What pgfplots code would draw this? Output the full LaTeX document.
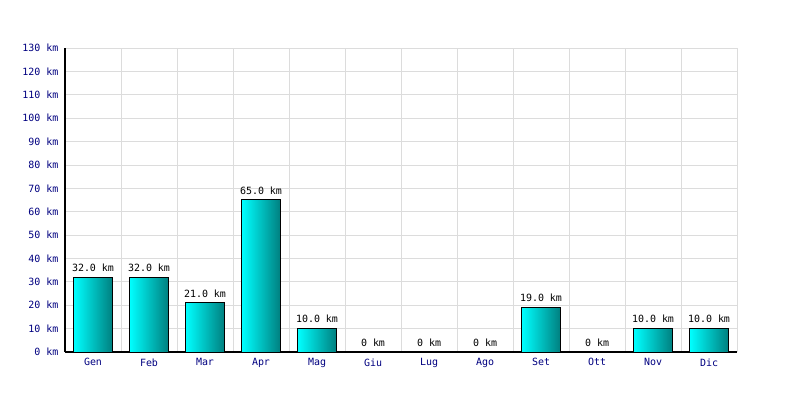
\documentclass[border=0pt]{standalone}
\usepackage{fontspec}
\setmainfont{DejaVu Sans Mono}
\usepackage{pgfplots}
\usepackage{pgfplotstable}
\pgfplotsset{compat=1.18}

\definecolor{ticknavy}{RGB}{0,0,128}
\definecolor{gridgray}{RGB}{220,220,220}
\definecolor{barleft}{RGB}{0,255,255}
\definecolor{barright}{RGB}{0,128,128}

% month, km, label
\pgfplotstableread[col sep=comma]{
x,y,lab
0,32,32.0 km
1,32,32.0 km
2,21,21.0 km
3,65,65.0 km
4,10,10.0 km
5,0,0 km
6,0,0 km
7,0,0 km
8,19,19.0 km
9,0,0 km
10,10,10.0 km
11,10,10.0 km
}\kmdata

\begin{document}
\begin{tikzpicture}
\path[use as bounding box] (0,0) rectangle (800bp,400bp);
\begin{axis}[
  at={(65bp,48bp)}, anchor=south west,
  scale only axis,
  width=672bp, height=304bp,
  xmin=-0.5, xmax=11.5,
  ymin=0, ymax=130,
  axis x line*=bottom,
  axis y line*=left,
  axis line style={line width=1.4bp, black, -},
  xtick={0,...,11},
  xticklabels={Gen,Feb,Mar,Apr,Mag,Giu,Lug,Ago,Set,Ott,Nov,Dic},
  minor xtick={-0.5,0.5,...,11.5},
  ytick={0,10,...,130},
  yticklabels={0 km,10 km,20 km,30 km,40 km,50 km,60 km,70 km,80 km,90 km,100 km,110 km,120 km,130 km},
  major tick length=0pt, minor tick length=0pt,
  ymajorgrids=true, xminorgrids=true,
  grid style={gridgray, line width=0.8bp},
  minor grid style={gridgray, line width=0.8bp},
  tick label style={font=\fontsize{10}{12}\selectfont, text=ticknavy},
  yticklabel style={xshift=-3bp},
  xticklabel style={yshift=-3bp},
  ybar, bar width=38.4bp,
  point meta=explicit symbolic,
  nodes near coords,
  every node near coord/.append style={font=\fontsize{10}{12}\selectfont, text=black, anchor=south, inner sep=0pt, yshift=5bp},
]
% one plot per month, so every bar gets its own shading
\pgfplotsinvokeforeach{0,...,11}{
  \addplot[bar shift=0pt, draw=black, line width=1bp, left color=barleft, right color=barright,
    restrict x to domain=#1:#1, unbounded coords=discard]
    table[x=x, y=y, meta=lab] {\kmdata};
}
\end{axis}
\end{tikzpicture}
\end{document}
